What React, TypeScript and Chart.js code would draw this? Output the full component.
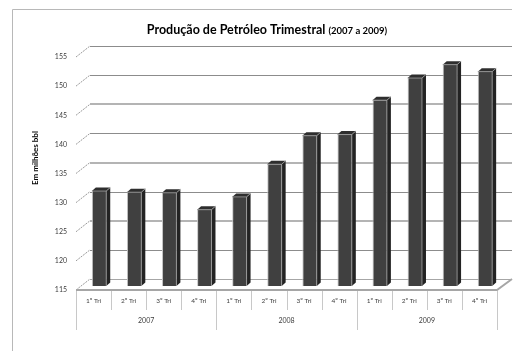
import React, { useEffect, useRef } from "react";
import { Chart, registerables } from "chart.js";

Chart.register(...registerables);

const quarters = ["1º Tri", "2º Tri", "3º Tri", "4º Tri", "1º Tri", "2º Tri", "3º Tri", "4º Tri", "1º Tri", "2º Tri", "3º Tri", "4º Tri"];
const years = ["2007", "2008", "2009"];
const production = [131.3, 131.1, 131.0, 128.1, 130.3, 135.9, 140.8, 141.0, 146.9, 150.7, 153.0, 151.8];
const yTicks = [115, 120, 125, 130, 135, 140, 145, 150, 155];
const titleMain = "Produção de Petróleo Trimestral";
const titleSub = "(2007 a 2009)";
const yTitle = "Em milhões bbl";

const FONT = "Lato, 'Open Sans', sans-serif";
const DX = 14; // wall depth x
const DY = 11; // wall depth y
const BX = 5.5; // bar depth shift x
const BY = 4; // bar depth shift y

const scenePlugin = {
  id: "scene",
  beforeDraw(chart: any) {
    const ctx = chart.ctx;
    const { left, right, bottom } = chart.chartArea;
    const y = chart.scales.y;
    ctx.save();
    ctx.fillStyle = "#ffffff";
    ctx.fillRect(0, 0, chart.width, chart.height);
    // outer border (top + left)
    ctx.strokeStyle = "#b8b8b8";
    ctx.lineWidth = 1;
    ctx.beginPath();
    ctx.moveTo(12.5, 351);
    ctx.lineTo(12.5, 9.5);
    ctx.lineTo(512, 9.5);
    ctx.stroke();

    // title
    ctx.fillStyle = "#000000";
    ctx.textBaseline = "alphabetic";
    ctx.font = `bold 12.5px ${FONT}`;
    const w1 = ctx.measureText(titleMain + " ").width;
    ctx.font = `bold 9.5px ${FONT}`;
    const w2 = ctx.measureText(titleSub).width;
    const tx = 267 - (w1 + w2) / 2;
    ctx.font = `bold 12.5px ${FONT}`;
    ctx.textAlign = "left";
    ctx.fillText(titleMain + " ", tx, 34);
    ctx.font = `bold 9.5px ${FONT}`;
    ctx.fillText(titleSub, tx + w1, 34);

    // y title
    ctx.save();
    ctx.translate(35, 158);
    ctx.rotate(-Math.PI / 2);
    ctx.font = `bold 8px ${FONT}`;
    ctx.textAlign = "center";
    ctx.textBaseline = "middle";
    ctx.fillText(yTitle, 0, 0);
    ctx.restore();

    // back wall gridlines + left wall diagonals + tick labels
    yTicks.forEach((v) => {
      const yf = y.getPixelForValue(v);
      const yb = yf - DY;
      const light = v === 125 || v === 135 || v === 145;
      if (v !== 115) {
        ctx.strokeStyle = light ? "#b4b4b4" : "#8c8c8c";
        ctx.lineWidth = light ? 2 : 1;
        ctx.beginPath();
        ctx.moveTo(left + DX, Math.round(yb) + (light ? 0 : 0.5));
        ctx.lineTo(right + DX + 1, Math.round(yb) + (light ? 0 : 0.5));
        ctx.stroke();
      }
      ctx.strokeStyle = "#9a9a9a";
      ctx.lineWidth = 1;
      ctx.setLineDash([2, 1]);
      ctx.beginPath();
      ctx.moveTo(left, yf);
      ctx.lineTo(left + DX, yb);
      ctx.stroke();
      ctx.setLineDash([]);
      ctx.fillStyle = "#404040";
      ctx.font = `7px ${FONT}`;
      ctx.textAlign = "right";
      ctx.textBaseline = "middle";
      ctx.fillText(String(v), left - 9, yf);
    });

    // floor
    ctx.strokeStyle = "#a6a6a6";
    ctx.lineWidth = 1;
    ctx.beginPath();
    ctx.moveTo(left + DX, Math.round(bottom - DY) + 0.5);
    ctx.lineTo(right + DX + 1, Math.round(bottom - DY) + 0.5);
    ctx.stroke();
    ctx.lineWidth = 2;
    ctx.beginPath();
    ctx.moveTo(left, bottom);
    ctx.lineTo(right, bottom);
    ctx.lineTo(right + DX + 1, bottom - DY);
    ctx.stroke();
    ctx.restore();
  },
  beforeDatasetsDraw(chart: any) {
    chart.ctx.save();
    chart.ctx.translate(BX, -BY);
  },
  afterDatasetsDraw(chart: any) {
    const ctx = chart.ctx;
    const meta = chart.getDatasetMeta(0);
    const floor = chart.scales.y.getPixelForValue(115);
    const d = 4;
    const e = 3.5;
    meta.data.forEach((bar: any) => {
      const { x, y, width } = bar.getProps(["x", "y", "width"], true);
      const base = floor;
      const l = x - width / 2;
      const r = x + width / 2;
      // side face
      ctx.fillStyle = "#232323";
      ctx.beginPath();
      ctx.moveTo(r, y);
      ctx.lineTo(r + d, y - e);
      ctx.lineTo(r + d, base - e);
      ctx.lineTo(r, base);
      ctx.closePath();
      ctx.fill();
      // top face
      ctx.fillStyle = "#2e2e2e";
      ctx.beginPath();
      ctx.moveTo(l, y);
      ctx.lineTo(l + d, y - e);
      ctx.lineTo(r + d, y - e);
      ctx.lineTo(r, y);
      ctx.closePath();
      ctx.fill();
      ctx.strokeStyle = "#9e9e9e";
      ctx.lineWidth = 0.8;
      ctx.beginPath();
      ctx.moveTo(r, base);
      ctx.lineTo(r, y);
      ctx.lineTo(r + d, y - e);
      ctx.moveTo(r, y);
      ctx.lineTo(l, y);
      ctx.stroke();
    });
    ctx.restore();
  },
  afterDraw(chart: any) {
    const ctx = chart.ctx;
    const { left, right, bottom } = chart.chartArea;
    const x = chart.scales.x;
    const cw = (right - left) / quarters.length;
    ctx.save();
    ctx.strokeStyle = "#c8c8c8";
    ctx.lineWidth = 1;
    for (let i = 0; i <= quarters.length; i++) {
      const px = Math.round(left + i * cw) + 0.5;
      const full = i % 4 === 0;
      ctx.beginPath();
      ctx.moveTo(px, bottom + 1);
      ctx.lineTo(px, full ? 330 : 310);
      ctx.stroke();
    }
    ctx.fillStyle = "#404040";
    ctx.font = `6.5px ${FONT}`;
    ctx.textAlign = "center";
    ctx.textBaseline = "middle";
    quarters.forEach((q, i) => {
      ctx.fillText(q, x.getPixelForValue(i), 301);
    });
    ctx.font = `7px ${FONT}`;
    years.forEach((yr, j) => {
      const cx = (x.getPixelForValue(j * 4) + x.getPixelForValue(j * 4 + 3)) / 2;
      ctx.fillText(yr, cx, 321);
    });
    ctx.restore();
  },
};

export default function App() {
  const ref = useRef<HTMLCanvasElement>(null);
  useEffect(() => {
    if (!ref.current) return;
    const chart = new Chart(ref.current, {
      type: "bar",
      data: {
        labels: quarters.map((q, i) => `${q} ${years[Math.floor(i / 4)]}`),
        datasets: [
          {
            data: production,
            backgroundColor: "#404040",
            borderColor: "#c4c4c4",
            borderWidth: { left: 1, right: 0, top: 0, bottom: 0 },
            borderSkipped: false,
            categoryPercentage: 1,
            barPercentage: 0.41,
            base: 115,
          },
        ],
      },
      options: {
        responsive: false,
        animation: false,
        layout: { padding: { left: 76, right: 26, top: 57, bottom: 61 } },
        plugins: { legend: { display: false }, title: { display: false }, tooltip: { enabled: false } },
        scales: {
          x: { display: false },
          y: { display: false, min: 115, max: 155 },
        },
      },
      plugins: [scenePlugin],
    });
    return () => chart.destroy();
  }, []);
  return (
    <div style={{ position: "absolute", left: 0, top: 0, width: 523, height: 351 }}>
      <canvas ref={ref} width={523} height={351} style={{ display: "block" }} />
    </div>
  );
}
